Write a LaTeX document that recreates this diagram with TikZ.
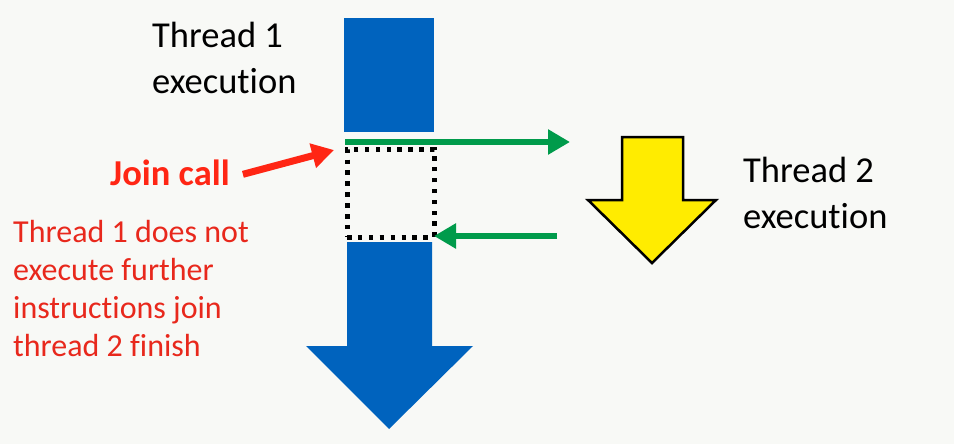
\documentclass[tikz,border=0pt]{standalone}
\usepackage{fontspec}
\setmainfont{Carlito}[Ligatures=NoCommon]
\usetikzlibrary{arrows.meta, positioning}
\definecolor{threadblue}{RGB}{0,99,190}
\definecolor{signalgreen}{RGB}{0,155,75}
\definecolor{joinred}{RGB}{255,38,20}
\definecolor{notered}{RGB}{232,40,28}
\definecolor{twoyellow}{RGB}{255,236,0}
\definecolor{slidebg}{RGB}{248,249,246}

\begin{document}
\begin{tikzpicture}[x=1pt, y=-1pt,
    threadtext/.style={anchor=base west, inner sep=0pt, align=left, font=\fontsize{36.5}{46}\selectfont},
    notetext/.style={anchor=base west, inner sep=0pt, align=left, text=notered, font=\fontsize{32}{38}\selectfont},
    signal/.style={signalgreen, line width=6pt, -{Triangle[length=22pt, width=24pt]}},
    waitbox/.style={draw=black, line width=5pt, dash pattern=on 4.5pt off 6.4pt, minimum width=87pt, minimum height=88pt, inner sep=0pt, outer sep=0pt}
]
    % Background
    \fill[slidebg] (0,0) rectangle (954,444);
    \useasboundingbox (0,0) rectangle (954,444);

    % Thread 1 body
    \node[fill=threadblue, minimum width=90pt, minimum height=114pt, inner sep=0pt] (t1top) at (389,75) {};
    \fill[threadblue] (347,242) -- (432,242) -- (432,346) -- (473,346) -- (389,429) -- (306,346) -- (347,346) -- cycle;

    % Waiting part
    \node[waitbox] (wait) at (390.5,193) {};

    % Thread 2 body
    \filldraw[fill=twoyellow, draw=black, line width=2.5pt, line join=miter]
        (622,137) -- (683,137) -- (683,200) -- (716,200) -- (652,263) -- (588,200) -- (622,200) -- cycle;

    % Green signals
    \coordinate (forkstart) at (345,142);
    \coordinate (forkend) at (570,142);
    \coordinate (backstart) at (557,236);
    \draw[signal] (forkstart) -- (forkend);
    \draw[signal] (backstart) -- (backstart -| wait.east);

    % Labels
    \node[threadtext] (t1lbl) at (152,93) {Thread 1\\execution};
    \node[threadtext] (t2lbl) at (743,228) {Thread 2\\execution};
    \node[notetext, text=joinred, font=\fontsize{36.5}{40}\selectfont\bfseries] (joinlbl) at (110,185) {Join call};
    \node[notetext] (note) at (13,356) {Thread 1 does not\\execute further\\instructions join\\thread 2 finish};

    % Join arrow
    \coordinate (jointip) at (334,150);
    \draw[joinred, line width=7pt, -{Triangle[length=22pt, width=24pt]}] ([xshift=13pt, yshift=-2pt]joinlbl.east) -- (jointip);
\end{tikzpicture}
\end{document}
